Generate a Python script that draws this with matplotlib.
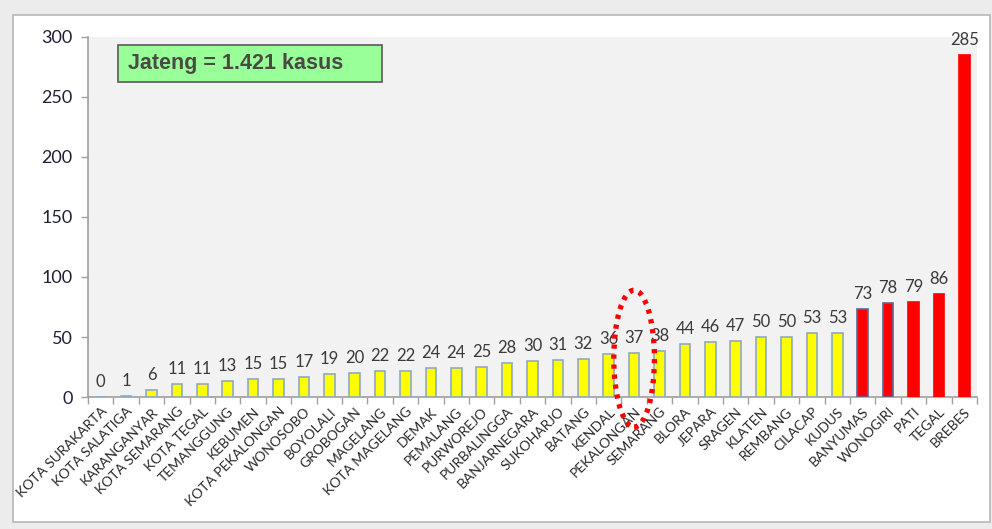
import matplotlib
matplotlib.use("Agg")
import matplotlib.pyplot as plt
from matplotlib.patches import Ellipse, Rectangle
import numpy as np

regions = ["KOTA SURAKARTA", "KOTA SALATIGA", "KARANGANYAR", "KOTA SEMARANG",
           "KOTA TEGAL", "TEMANGGUNG", "KEBUMEN", "KOTA PEKALONGAN", "WONOSOBO",
           "BOYOLALI", "GROBOGAN", "MAGELANG", "KOTA MAGELANG", "DEMAK",
           "PEMALANG", "PURWOREJO", "PURBALINGGA", "BANJARNEGARA", "SUKOHARJO",
           "BATANG", "KENDAL", "PEKALONGAN", "SEMARANG", "BLORA", "JEPARA",
           "SRAGEN", "KLATEN", "REMBANG", "CILACAP", "KUDUS", "BANYUMAS",
           "WONOGIRI", "PATI", "TEGAL", "BREBES"]
cases = [0, 1, 6, 11, 11, 13, 15, 15, 17, 19, 20, 22, 22, 24, 24, 25, 28, 30,
         31, 32, 36, 37, 38, 44, 46, 47, 50, 50, 53, 53, 73, 78, 79, 86, 285]
top_regions = ["BANYUMAS", "WONOGIRI", "PATI", "TEGAL", "BREBES"]
highlight = "PEKALONGAN"
total_label = "Jateng = 1.421 kasus"
yticks = [0, 50, 100, 150, 200, 250, 300]

plt.rcParams["font.family"] = ["Lato", "DejaVu Sans"]

fig = plt.figure(figsize=(9.92, 5.29), dpi=100)
fig.patch.set_facecolor("#ececec")
# white chart card with a grey border
fig.add_artist(Rectangle((13 / 992, 7 / 529), 977 / 992, 507 / 529,
                         transform=fig.transFigure, facecolor="white",
                         edgecolor="#b8b8b8", linewidth=1.2, zorder=-1))

ax = fig.add_axes([88 / 992, 1 - 397 / 529, 889 / 992, 360 / 529])
ax.set_facecolor("#f2f2f2")

x = np.arange(len(regions))
colors = ["#ff0000" if r in top_regions else "#ffff00" for r in regions]
edges = []
for r in regions:
    if r in ("BANYUMAS", "WONOGIRI"):
        edges.append("#5a6a96")
    elif r in top_regions:
        edges.append("#ff0000")
    else:
        edges.append("#8fa9c2")
ax.bar(x, cases, width=0.42, color=colors, edgecolor=edges, linewidth=1.2, zorder=3)

for xi, v in zip(x, cases):
    ax.annotate(str(v), (xi, v), xytext=(0, 5), textcoords="offset points",
                ha="center", va="bottom", fontsize=12, color="#3a3a3a",
                clip_on=False)

ax.set_xlim(-0.5, len(regions) - 0.5)
ax.set_ylim(0, 300)
ax.set_yticks(yticks)
ax.tick_params(axis="y", labelsize=13, labelcolor="#1f1f3a", color="#a0a0a0",
               length=5, width=1, pad=6)
ax.set_xticks(x)
ax.set_xticklabels(regions, rotation=45, ha="right", rotation_mode="anchor",
                   fontsize=10, color="#2a2a2a")
ax.tick_params(axis="x", which="major", length=0, pad=6)
ax.set_xticks(np.arange(-0.5, len(regions), 1), minor=True)
ax.tick_params(axis="x", which="minor", length=5, color="#a0a0a0", width=1)

for side in ("top", "right"):
    ax.spines[side].set_visible(False)
for side in ("left", "bottom"):
    ax.spines[side].set_color("#a0a0a0")
    ax.spines[side].set_linewidth(1.2)

# total-cases callout
fig.add_artist(Rectangle((118 / 992, 1 - 82 / 529), 264 / 992, 37 / 529,
                         transform=fig.transFigure, facecolor="#99ff99",
                         edgecolor="#5a5a5a", linewidth=1.2, zorder=5))
fig.text(128 / 992, 1 - 64 / 529, total_label, fontsize=15.5, fontweight="bold",
         color="#4a4a44", family=["Liberation Sans", "DejaVu Sans"],
         va="center", ha="left", zorder=6)

# dotted ring around the highlighted region
hi = regions.index(highlight)
ax.add_patch(Ellipse((hi, 32), 1.6, 114, fill=False, edgecolor="#ff0000",
                     linewidth=3.8, linestyle=(0, (0.8, 1.1)), clip_on=False,
                     zorder=6))

fig.savefig("out.png", dpi=100, facecolor=fig.get_facecolor())
